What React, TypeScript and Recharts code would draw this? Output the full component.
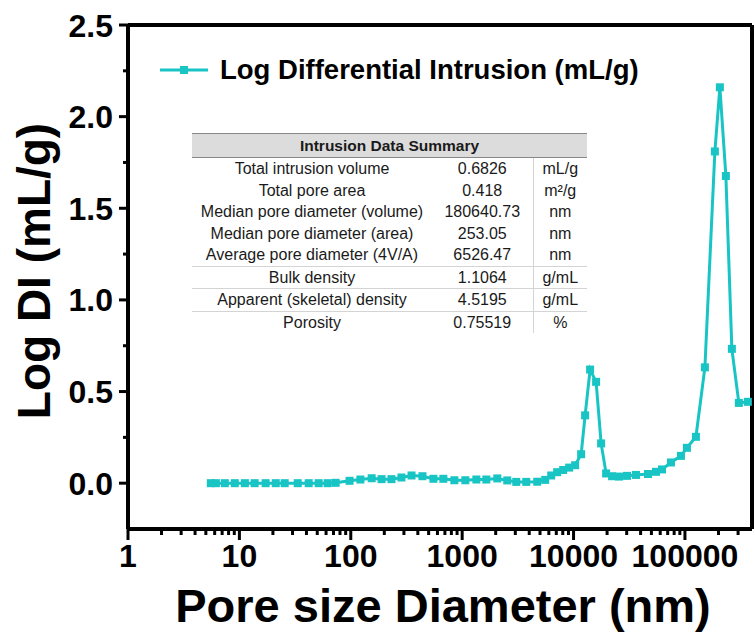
import React from 'react';
import { LineChart, Line, XAxis, YAxis, ReferenceLine } from 'recharts';

// pore diameter (nm) and log differential intrusion (mL/g)
const poreSize = [
  5.54, 6.15, 7.4, 9.09, 11.2, 13.7, 17.2, 21.2, 25.5, 33.4, 41.9, 51.5, 62.0, 73.1, 97.5, 122, 154, 189, 232, 285,
  351, 440, 552, 678, 851, 1068, 1341, 1648, 2068, 2541, 3060, 3761, 4719, 5566, 6300, 7129, 8069, 9133, 10336,
  11700, 12700, 14084, 15940, 17680, 19600, 22180, 25630, 30220, 36390, 46620, 54970, 62220, 74920, 92080, 104200,
  125500, 151100, 185700, 205900, 233100, 263800, 304700, 366900,
];
const logDI = [
  0, 0, 0, 0, 0, 0, 0, 0, 0, 0, 0, 0, 0, 0.002, 0.013, 0.02, 0.027, 0.022, 0.022, 0.031,
  0.042, 0.038, 0.024, 0.024, 0.016, 0.016, 0.02, 0.02, 0.026, 0.015, 0.007, 0.007, 0.008, 0.018, 0.042, 0.06, 0.072, 0.085, 0.098,
  0.158, 0.37, 0.62, 0.553, 0.217, 0.053, 0.038, 0.036, 0.04, 0.045, 0.05, 0.062, 0.075, 0.113, 0.149, 0.193,
  0.253, 0.632, 1.81, 2.16, 1.676, 0.733, 0.438, 0.444,
];

const xMajorTicks = [1, 10, 100, 1000, 10000, 100000];
const xMinorTicks = [
  2, 3, 4, 5, 6, 7, 8, 9,
  20, 30, 40, 50, 60, 70, 80, 90,
  200, 300, 400, 500, 600, 700, 800, 900,
  2000, 3000, 4000, 5000, 6000, 7000, 8000, 9000,
  20000, 30000, 40000, 50000, 60000, 70000, 80000, 90000,
  200000, 300000,
];
const yMajorTicks = [0, 0.5, 1, 1.5, 2, 2.5];
const yMinorTicks = [0.25, 0.75, 1.25, 1.75, 2.25];

const summaryTitle = 'Intrusion Data Summary';
const summaryLabels = [
  'Total intrusion volume',
  'Total pore area',
  'Median pore diameter (volume)',
  'Median pore diameter (area)',
  'Average pore diameter (4V/A)',
  'Bulk density',
  'Apparent (skeletal) density',
  'Porosity',
];
const summaryValues = ['0.6826', '0.418', '180640.73', '253.05', '6526.47', '1.1064', '4.5195', '0.75519'];
const summaryUnits = ['mL/g', 'm²/g', 'nm', 'nm', 'nm', 'g/mL', 'g/mL', '%'];

const seriesName = 'Log Differential Intrusion (mL/g)';
const COLOR = '#19C4C4';
const FONT = '"Liberation Sans", Arial, Helvetica, sans-serif';

const data = poreSize.map((d, i) => ({ d, v: logDI[i] }));
const xTicks = [...xMajorTicks, ...xMinorTicks].sort((a, b) => a - b);
const yTicks = [...yMajorTicks, ...yMinorTicks].sort((a, b) => a - b);

const XTick = (props: any) => {
  const { x, y, payload } = props;
  const major = xMajorTicks.includes(payload.value);
  return (
    <g>
      <line x1={x} x2={x} y1={y} y2={y + (major ? 11 : 6)} stroke="#000" strokeWidth={3} />
      {major && (
        <text x={x} y={y + 38} textAnchor="middle" fontFamily={FONT} fontWeight={700} fontSize={32} fill="#000">
          {payload.value}
        </text>
      )}
    </g>
  );
};

const YTick = (props: any) => {
  const { x, y, payload } = props;
  const major = yMajorTicks.includes(payload.value);
  return (
    <g>
      <line x1={x - (major ? 9 : 5)} x2={x} y1={y} y2={y} stroke="#000" strokeWidth={3} />
      {major && (
        <text x={x - 15} y={y} dy="0.36em" textAnchor="end" fontFamily={FONT} fontWeight={700} fontSize={32} fill="#000">
          {payload.value.toFixed(1)}
        </text>
      )}
    </g>
  );
};

const SquareDot = (props: any) => {
  const { cx, cy } = props;
  if (cx == null || cy == null) return null;
  return <rect x={cx - 4} y={cy - 4} width={8} height={8} fill={COLOR} />;
};

const cell: React.CSSProperties = {
  padding: 0,
  height: 21.5,
  lineHeight: '21.5px',
  textAlign: 'center',
  whiteSpace: 'nowrap',
};

const App = () => {
  return (
    <div style={{ position: 'relative', width: 755, height: 635, background: '#fff', fontFamily: FONT }}>
      <style>{'body{margin:0}'}</style>
      <LineChart width={755} height={635} data={data} margin={{ top: 25, right: 3, bottom: 0, left: 0 }}>
        <XAxis
          dataKey="d"
          type="number"
          scale="log"
          domain={[1, 400000]}
          allowDataOverflow
          ticks={xTicks}
          interval={0}
          tick={<XTick />}
          tickLine={false}
          tickSize={0}
          tickMargin={0}
          height={106}
          axisLine={{ stroke: '#000', strokeWidth: 4 }}
          label={{
            content: () => (
              <text x={443} y={622} textAnchor="middle" fontFamily={FONT} fontWeight={700} fontSize={47} fill="#000">
                Pore size Diameter (nm)
              </text>
            ),
          }}
        />
        <YAxis
          type="number"
          domain={[-0.25, 2.5]}
          allowDataOverflow
          ticks={yTicks}
          interval={0}
          tick={<YTick />}
          tickLine={false}
          tickSize={0}
          tickMargin={0}
          width={128}
          axisLine={{ stroke: '#000', strokeWidth: 4 }}
          label={{
            content: () => (
              <text
                transform="translate(50,271) rotate(-90)"
                textAnchor="middle"
                fontFamily={FONT}
                fontWeight={700}
                fontSize={46}
                fill="#000"
              >
                Log DI (mL/g)
              </text>
            ),
          }}
        />
        <ReferenceLine y={2.5} stroke="#000" strokeWidth={4} />
        <ReferenceLine x={400000} stroke="#000" strokeWidth={4} />
        <Line
          type="linear"
          dataKey="v"
          name={seriesName}
          stroke={COLOR}
          strokeWidth={3}
          dot={<SquareDot />}
          activeDot={false}
          isAnimationActive={false}
        />
      </LineChart>

      <div style={{ position: 'absolute', left: 160, top: 54, display: 'flex', alignItems: 'center' }}>
        <svg width={48} height={12}>
          <line x1={0} y1={6} x2={48} y2={6} stroke={COLOR} strokeWidth={3} />
          <rect x={20} y={2} width={8} height={8} fill={COLOR} />
        </svg>
        <span style={{ marginLeft: 12, fontWeight: 700, fontSize: 27.5, color: '#000' }}>{seriesName}</span>
      </div>

      <table
        style={{
          position: 'absolute',
          left: 192,
          top: 133,
          width: 395,
          borderCollapse: 'collapse',
          fontSize: 16,
          color: '#1a1a1a',
          tableLayout: 'fixed',
        }}
      >
        <colgroup>
          <col style={{ width: 240 }} />
          <col style={{ width: 101 }} />
          <col style={{ width: 54 }} />
        </colgroup>
        <thead>
          <tr>
            <th
              colSpan={3}
              style={{
                ...cell,
                height: 23,
                lineHeight: '23px',
                background: '#dcdcdc',
                fontWeight: 700,
                fontSize: 15.5,
                borderTop: '1px solid #888',
                borderBottom: '1px solid #888',
              }}
            >
              {summaryTitle}
            </th>
          </tr>
        </thead>
        <tbody>
          {summaryLabels.map((label, i) => {
            const sep = i >= 5 ? '1px solid #d4d4d4' : 'none';
            return (
              <tr key={label}>
                <td style={{ ...cell, borderTop: sep }}>{label}</td>
                <td style={{ ...cell, borderTop: sep }}>{summaryValues[i]}</td>
                <td style={{ ...cell, borderTop: sep, borderLeft: '1px solid #d4d4d4' }}>{summaryUnits[i]}</td>
              </tr>
            );
          })}
        </tbody>
      </table>
    </div>
  );
};

export default App;
